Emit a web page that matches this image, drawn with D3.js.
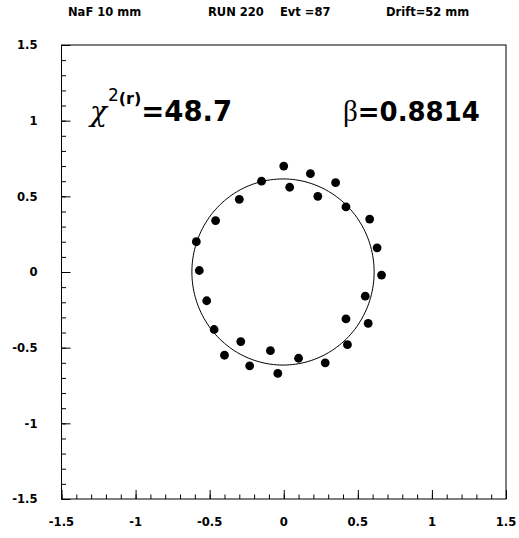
<!DOCTYPE html>
<html>
<head>
<meta charset="utf-8">
<script src="https://cdn.jsdelivr.net/npm/d3@7"></script>
<style>
  body { margin: 0; background: #fff; }
  text { font-family: "DejaVu Sans", "Liberation Sans", sans-serif; font-weight: bold; }
</style>
</head>
<body>
<script>
// HIT POSITIONS
var hitX = [0.00, 0.18, 0.35, -0.15, 0.04, 0.23, -0.30, 0.42, -0.46, 0.58,
            -0.59, 0.63, -0.57, 0.66, -0.52, 0.55, 0.42, 0.57, -0.47, -0.29,
            -0.40, -0.09, 0.43, 0.10, -0.23, 0.28, -0.04];
var hitY = [0.70, 0.65, 0.59, 0.60, 0.56, 0.50, 0.48, 0.43, 0.34, 0.35,
            0.20, 0.16, 0.01, -0.02, -0.19, -0.16, -0.31, -0.34, -0.38, -0.46,
            -0.55, -0.52, -0.48, -0.57, -0.62, -0.60, -0.67];

// FITTED RING
var ringCenter = [-0.005, 0.0];
var ringRadius = 0.615;

// LABELS
var headers = [
  {text: "NaF 10 mm", x: 68},
  {text: "RUN 220", x: 208},
  {text: "Evt =87", x: 280},
  {text: "Drift=52 mm", x: 386}
];
var majorTicks = [-1.5, -1, -0.5, 0, 0.5, 1, 1.5];
var chi2Value = "48.7";
var betaValue = "0.8814";

var W = 519, H = 538;
var svg = d3.select("body").append("svg").attr("width", W).attr("height", H);

var x = d3.scaleLinear().domain([-1.5, 1.5]).range([61.5, 506]);
var y = d3.scaleLinear().domain([-1.5, 1.5]).range([499, 45]);

var minorTicks = d3.range(-15, 16).map(function(d) { return d / 10; });

// HEADER TEXT
svg.selectAll("text.head").data(headers).enter().append("text")
   .attr("class", "head")
   .attr("x", function(d) { return d.x; })
   .attr("y", 15.5)
   .style("font-size", "11.5px")
   .text(function(d) { return d.text; });

// FRAME
svg.append("rect")
   .attr("x", x(-1.5)).attr("y", y(1.5))
   .attr("width", x(1.5) - x(-1.5)).attr("height", y(-1.5) - y(1.5))
   .attr("fill", "none").attr("stroke", "black").attr("stroke-width", 1);

// X AXIS (ticks inside)
var gx = svg.append("g").attr("transform", "translate(0," + y(-1.5) + ")");
gx.call(d3.axisTop(x).tickValues(minorTicks).tickSize(4.5).tickFormat(""))
  .call(function(g) { g.select(".domain").remove(); });
var gx2 = svg.append("g").attr("transform", "translate(0," + y(-1.5) + ")");
gx2.call(d3.axisTop(x).tickValues(majorTicks).tickSize(9).tickFormat(""))
   .call(function(g) { g.select(".domain").remove(); });
svg.selectAll("text.xl").data(majorTicks).enter().append("text")
   .attr("class", "xl")
   .attr("x", function(d) { return x(d); })
   .attr("y", 525.5)
   .attr("text-anchor", "middle")
   .style("font-size", "11.6px")
   .text(function(d) { return d; });

// Y AXIS (ticks inside)
var gy = svg.append("g").attr("transform", "translate(" + x(-1.5) + ",0)");
gy.call(d3.axisRight(y).tickValues(minorTicks).tickSize(4.5).tickFormat(""))
  .call(function(g) { g.select(".domain").remove(); });
var gy2 = svg.append("g").attr("transform", "translate(" + x(-1.5) + ",0)");
gy2.call(d3.axisRight(y).tickValues(majorTicks).tickSize(9).tickFormat(""))
   .call(function(g) { g.select(".domain").remove(); });
svg.selectAll("text.yl").data(majorTicks).enter().append("text")
   .attr("class", "yl")
   .attr("x", 37.5)
   .attr("y", function(d) { return y(d) + 4.2; })
   .attr("text-anchor", "end")
   .style("font-size", "11.6px")
   .text(function(d) { return d; });

svg.selectAll(".tick line").attr("stroke", "black").attr("stroke-width", 1);

// RING
var ang = d3.range(0, 361, 2).map(function(a) { return a * Math.PI / 180; });
var ring = d3.line()
   .x(function(a) { return x(ringCenter[0] + ringRadius * Math.cos(a)); })
   .y(function(a) { return y(ringCenter[1] + ringRadius * Math.sin(a)); });
svg.append("path").datum(ang).attr("d", ring)
   .attr("fill", "none").attr("stroke", "black").attr("stroke-width", 1);

// HITS
svg.selectAll("circle.hit").data(hitX).enter().append("circle")
   .attr("class", "hit")
   .attr("cx", function(d) { return x(d); })
   .attr("cy", function(d, i) { return y(hitY[i]); })
   .attr("r", 4.4)
   .attr("fill", "black");

// CHI2 AND BETA
var chi = svg.append("text").attr("x", 90).attr("y", 121).style("font-size", "27.5px");
chi.append("tspan").text("\u03c7")
   .style("font-family", "'DejaVu Serif', 'Liberation Serif', serif")
   .style("font-weight", "normal").style("font-style", "italic").style("font-size", "28px");
chi.append("tspan").text("2").attr("dy", -20).attr("dx", 1)
   .style("font-weight", "normal").style("font-size", "17px");
chi.append("tspan").text("(r)").attr("dy", 3)
   .style("font-size", "16px");
chi.append("tspan").text("=" + chi2Value).attr("dy", 17);

var beta = svg.append("text").attr("x", 343).attr("y", 121).style("font-size", "26px");
beta.append("tspan").text("\u03b2")
   .style("font-family", "'Liberation Serif', 'DejaVu Serif', serif")
   .style("font-weight", "normal").style("font-size", "29px");
beta.append("tspan").text("=" + betaValue);
</script>
</body>
</html>
